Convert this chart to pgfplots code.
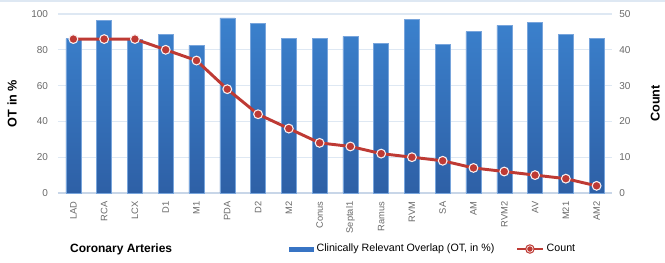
\documentclass[border=0pt]{standalone}
\usepackage{fontspec}
\setmainfont{Liberation Sans}
\usepackage{pgfplots}
\pgfplotsset{compat=1.18}
\definecolor{barTop}{RGB}{59,129,205}
\definecolor{barBot}{RGB}{46,96,166}
\definecolor{barLeg}{RGB}{56,116,196}
\definecolor{barEdge}{RGB}{120,165,220}
\definecolor{lineRed}{RGB}{190,58,52}
\definecolor{gridC}{RGB}{222,232,243}
\definecolor{axisC}{RGB}{200,214,232}
\definecolor{tickC}{RGB}{105,105,105}
\begin{document}
\begin{tikzpicture}
\path[use as bounding box] (-43.5pt,-52.5pt) rectangle (455.25pt,144.75pt);
\draw[gridC, line width=1.2pt] (-43.5pt,144.2pt) -- (455.25pt,144.2pt);
\begin{axis}[
  at={(0,0)}, anchor=south west,
  scale only axis, width=415.5pt, height=134.25pt,
  xmin=-0.5, xmax=17.5, ymin=0, ymax=100,
  xtick=data,
  xticklabels={LAD,RCA,LCX,D1,M1,PDA,D2,M2,Conus,Septal1,Ramus,RVM,SA,AM,RVM2,AV,M21,AM2},
  x tick label style={rotate=90, anchor=east, font=\fontsize{7}{8}\selectfont, text=tickC},
  xticklabel shift=3pt,
  ytick={0,20,40,60,80,100},
  y tick label style={font=\fontsize{7.5}{8}\selectfont, text=tickC},
  yticklabel shift=4pt,
  /pgf/number format/assume math mode=true,
  major tick length=0pt,
  ymajorgrids, grid style={gridC, line width=0.8pt},
  axis x line*=bottom, axis y line*=left,
  y axis line style={draw=none},
  x axis line style={axisC, line width=1pt, -},
  ylabel={OT in \%},
  every axis y label/.style={at={(axis description cs:-0.083,0.5)}, rotate=90, anchor=center, font=\fontsize{9.5}{10}\selectfont\bfseries},
  clip=false,
]
\addplot[ybar, bar width=11.25pt, draw=barEdge, line width=0.4pt, top color=barTop, bottom color=barBot]
coordinates {(0,86.2) (1,96.6) (2,86) (3,88.6) (4,82.5) (5,97.8) (6,94.6) (7,86.4) (8,86.5) (9,87.5) (10,83.6) (11,97.2) (12,83) (13,90.1) (14,93.7) (15,95.5) (16,88.8) (17,86.2)};
\end{axis}
\begin{axis}[
  at={(0,0)}, anchor=south west,
  scale only axis, width=415.5pt, height=134.25pt,
  xmin=-0.5, xmax=17.5, ymin=0, ymax=50,
  axis x line=none,
  axis y line*=right,
  y axis line style={draw=none},
  ytick={0,10,20,30,40,50},
  y tick label style={font=\fontsize{7.5}{8}\selectfont, text=tickC},
  yticklabel shift=2pt,
  /pgf/number format/assume math mode=true,
  major tick length=0pt,
  ylabel={Count},
  every axis y label/.style={at={(axis description cs:1.078,0.5)}, rotate=90, anchor=center, font=\fontsize{9.5}{10}\selectfont\bfseries},
  legend style={at={(axis description cs:0.41,-0.313)}, anchor=west, draw=none, fill=none,
    legend columns=2, font=\fontsize{8}{9}\selectfont,
    /tikz/every even column/.append style={column sep=14pt}},
  clip=false,
]
\addlegendimage{legend image code/.code={\fill[barLeg] (0pt,-1.6pt) rectangle (18pt,1.6pt);}}
\addlegendentry{Clinically Relevant Overlap (OT, in \%)}
\addplot[lineRed, line width=2.2pt, mark=*, mark size=3.3pt,
  mark options={fill=lineRed, draw=white!92!lineRed, line width=0.8pt},
  legend image code/.code={\draw[lineRed, line width=2.2pt] (0pt,0pt) -- (19pt,0pt); \fill[lineRed] (9.5pt,0pt) circle (2.4pt); \draw[white!92!lineRed,line width=0.5pt] (9.5pt,0pt) circle (2.4pt);}]
coordinates {(0,43) (1,43) (2,43) (3,40) (4,37) (5,29) (6,22) (7,18) (8,14) (9,13) (10,11) (11,10) (12,9) (13,7) (14,6) (15,5) (16,4) (17,2)};
\addlegendentry{Count}
\node[font=\fontsize{9}{10}\selectfont\bfseries, anchor=center] at (axis description cs:0.114,-0.313) {Coronary Arteries};
\end{axis}
\end{tikzpicture}
\end{document}
